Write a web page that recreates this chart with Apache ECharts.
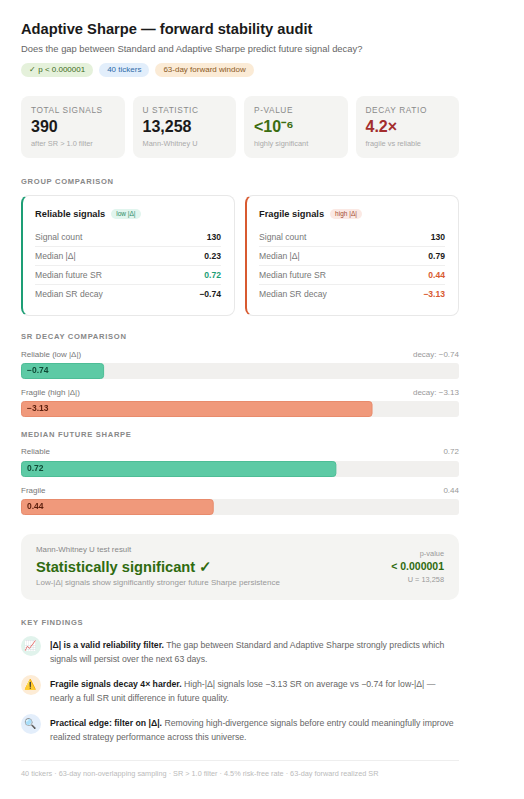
<!DOCTYPE html>
<html>
<head>
<meta charset="utf-8" />
<title>Adaptive Sharpe audit</title>
<script src="https://cdn.jsdelivr.net/npm/echarts@6/dist/echarts.min.js"></script>
<style>
  body { margin: 0; background: #fff; font-family: "Liberation Sans", Arial, sans-serif; color: #1a1a1a; }
  .wrap { width: 438px; padding: 19px 0 0 21px; }
  h1 { margin: 0; font-size: 14.7px; line-height: 20px; font-weight: bold; color: #1a1a1a; }
  .sub { margin-top: 3px; font-size: 9.4px; line-height: 14px; color: #666; }
  .pills { margin-top: 7px; display: flex; gap: 6px; }
  .pill { font-size: 8px; line-height: 14px; padding: 0 8px; border-radius: 7px; }
  .stats { margin-top: 19px; display: flex; gap: 8px; }
  .stat { flex: 1; background: #f4f4f2; border-radius: 8px; padding: 9px 10px; height: 44px; }
  .stat .lab { font-size: 8.3px; line-height: 11px; letter-spacing: .6px; color: #8a8a8a; }
  .stat .val { margin-top: 1px; font-size: 16px; line-height: 20px; font-weight: bold; }
  .stat .note { margin-top: 2px; font-size: 7.4px; line-height: 10px; color: #aaa; }
  .hdr { font-size: 7.6px; line-height: 10px; font-weight: bold; letter-spacing: .7px; color: #888; }
  .groups { margin-top: 8px; display: flex; gap: 10px; }
  .group { flex: 1; border: 1px solid #e8e8e8; border-radius: 8px; padding: 11px 13px 12px 12px; }
  .group .ttl { font-size: 9.3px; line-height: 14px; font-weight: bold; display: flex; align-items: center; gap: 6px; }
  .badge { font-size: 6.5px; line-height: 10px; padding: 0 5px; border-radius: 5px; font-weight: normal; }
  .rows { margin-top: 7px; }
  .row { display: flex; justify-content: space-between; font-size: 8.6px; line-height: 18px; color: #777; border-bottom: 1px solid #efefef; }
  .row:last-child { border-bottom: none; }
  .row b { color: #1a1a1a; }
  .blab { display: flex; justify-content: space-between; font-size: 8px; line-height: 12px; color: #777; }
  .blab span:last-child { color: #999; }
  .bar { width: 438px; height: 16px; margin-top: 2px; }
  .result { margin-top: 19px; background: #f4f4f2; border-radius: 10px; padding: 11px 15px 12px 15px; display: flex; justify-content: space-between; }
  .result .a { font-size: 7.9px; line-height: 10px; color: #888; }
  .result .big { margin-top: 2px; font-size: 14.7px; line-height: 20px; font-weight: bold; color: #2f6b10; }
  .result .c { margin-top: 1px; font-size: 8px; line-height: 10px; color: #999; }
  .result .r { text-align: right; padding-top: 4px; }
  .result .pv { font-size: 7.4px; line-height: 10px; color: #999; }
  .result .pn { font-size: 10.5px; line-height: 14px; font-weight: bold; color: #2f6b10; }
  .result .u { margin-top: 2px; font-size: 7.4px; line-height: 10px; color: #999; }
  .find { display: flex; gap: 9px; margin-top: 9px; }
  .ico { width: 20px; height: 20px; border-radius: 10px; flex: none; font-size: 10px; line-height: 20px; text-align: center; font-family: "Noto Color Emoji", "DejaVu Sans", sans-serif; }
  .find .t { padding-top: 2px; font-size: 8.7px; line-height: 14px; color: #666; width: 405px; }
  .find .t b { color: #1a1a1a; }
  .rule { margin-top: 16px; border-top: 1px solid #eee; }
  .foot { margin-top: 8px; font-size: 7.3px; line-height: 10px; color: #bbb; }
</style>
</head>
<body>
<div class="wrap">
  <h1>Adaptive Sharpe — forward stability audit</h1>
  <div class="sub">Does the gap between Standard and Adaptive Sharpe predict future signal decay?</div>
  <div class="pills">
    <span class="pill" style="background:#e5f1db;color:#3d6b21;">✓ p &lt; 0.000001</span>
    <span class="pill" style="background:#e2eefb;color:#2e6aa8;">40 tickers</span>
    <span class="pill" style="background:#fbebd6;color:#8b5a1e;">63-day forward window</span>
  </div>

  <div class="stats">
    <div class="stat"><div class="lab">TOTAL SIGNALS</div><div class="val">390</div><div class="note">after SR &gt; 1.0 filter</div></div>
    <div class="stat"><div class="lab">U STATISTIC</div><div class="val">13,258</div><div class="note">Mann-Whitney U</div></div>
    <div class="stat"><div class="lab">P-VALUE</div><div class="val" style="color:#3b6d11;">&lt;10⁻⁶</div><div class="note">highly significant</div></div>
    <div class="stat"><div class="lab">DECAY RATIO</div><div class="val" style="color:#a32d2d;">4.2×</div><div class="note">fragile vs reliable</div></div>
  </div>

  <div class="hdr" style="margin-top:19px;">GROUP COMPARISON</div>
  <div class="groups">
    <div class="group" style="border-left:2px solid #1d9e75;">
      <div class="ttl">Reliable signals <span class="badge" style="background:#e1f5ee;color:#2a8a66;">low |Δ|</span></div>
      <div class="rows">
        <div class="row"><span>Signal count</span><b>130</b></div>
        <div class="row"><span>Median |Δ|</span><b>0.23</b></div>
        <div class="row"><span>Median future SR</span><b style="color:#1d9e75;">0.72</b></div>
        <div class="row"><span>Median SR decay</span><b>−0.74</b></div>
      </div>
    </div>
    <div class="group" style="border-left:2px solid #d85a30;">
      <div class="ttl">Fragile signals <span class="badge" style="background:#fbe9e4;color:#a34a30;">high |Δ|</span></div>
      <div class="rows">
        <div class="row"><span>Signal count</span><b>130</b></div>
        <div class="row"><span>Median |Δ|</span><b>0.79</b></div>
        <div class="row"><span>Median future SR</span><b style="color:#d85a30;">0.44</b></div>
        <div class="row"><span>Median SR decay</span><b style="color:#d85a30;">−3.13</b></div>
      </div>
    </div>
  </div>

  <div class="hdr" style="margin-top:16px;">SR DECAY COMPARISON</div>
  <div class="blab" style="margin-top:7px;"><span id="dl0"></span><span id="dr0"></span></div>
  <div class="bar" id="decay0"></div>
  <div class="blab" style="margin-top:8px;"><span id="dl1"></span><span id="dr1"></span></div>
  <div class="bar" id="decay1"></div>

  <div class="hdr" style="margin-top:13px;">MEDIAN FUTURE SHARPE</div>
  <div class="blab" style="margin-top:6px;"><span id="fl0"></span><span id="fr0"></span></div>
  <div class="bar" id="future0" style="margin-top:3px;"></div>
  <div class="blab" style="margin-top:8px;"><span id="fl1"></span><span id="fr1"></span></div>
  <div class="bar" id="future1"></div>

  <div class="result">
    <div>
      <div class="a">Mann-Whitney U test result</div>
      <div class="big">Statistically significant ✓</div>
      <div class="c">Low-|Δ| signals show significantly stronger future Sharpe persistence</div>
    </div>
    <div class="r">
      <div class="pv">p-value</div>
      <div class="pn">&lt; 0.000001</div>
      <div class="u">U = 13,258</div>
    </div>
  </div>

  <div class="hdr" style="margin-top:18px;">KEY FINDINGS</div>
  <div class="find" style="margin-top:8px;">
    <div class="ico" style="background:#e1f3ec;">📈</div>
    <div class="t"><b>|Δ| is a valid reliability filter.</b> The gap between Standard and Adaptive Sharpe strongly predicts which signals will persist over the next 63 days.</div>
  </div>
  <div class="find">
    <div class="ico" style="background:#fdecd6;">⚠️</div>
    <div class="t"><b>Fragile signals decay 4× harder.</b> High-|Δ| signals lose −3.13 SR on average vs −0.74 for low-|Δ| — nearly a full SR unit difference in future quality.</div>
  </div>
  <div class="find">
    <div class="ico" style="background:#e3eefb;">🔍</div>
    <div class="t"><b>Practical edge: filter on |Δ|.</b> Removing high-divergence signals before entry could meaningfully improve realized strategy performance across this universe.</div>
  </div>

  <div class="rule"></div>
  <div class="foot">40 tickers · 63-day non-overlapping sampling · SR &gt; 1.0 filter · 4.5% risk-free rate · 63-day forward realized SR</div>
</div>

<script>
// bar data
var decayLabels = ['Reliable (low |Δ|)', 'Fragile (high |Δ|)'];
var decayValues = [-0.74, -3.13];
var decayMax = 3.9;

var futureLabels = ['Reliable', 'Fragile'];
var futureValues = [0.72, 0.44];
var futureMax = 1.0;

var barColors = ['#5dcaa5', '#f0997b'];
var barBorders = ['#4dbd96', '#e88b6c'];
var barText = ['#0f4a35', '#5a1f0d'];

function fmt(v) {
  return (v < 0 ? '−' : '') + Math.abs(v).toFixed(2);
}

function makeBar(id, name, value, max, i) {
  var chart = echarts.init(document.getElementById(id));
  chart.setOption({
    animation: false,
    grid: { left: 0, right: 0, top: 0, bottom: 0 },
    xAxis: { type: 'value', min: 0, max: max, show: false },
    yAxis: { type: 'category', data: [name], show: false },
    series: [{
      type: 'bar',
      data: [Math.abs(value)],
      barWidth: 16,
      showBackground: true,
      backgroundStyle: { color: '#f1f0ee', borderRadius: 3 },
      itemStyle: { color: barColors[i], borderColor: barBorders[i], borderWidth: 1, borderRadius: 3 },
      label: {
        show: true,
        position: 'insideLeft',
        distance: 6,
        formatter: function () { return fmt(value); },
        fontFamily: 'Liberation Sans, Arial, sans-serif',
        fontSize: 8.5,
        fontWeight: 'bold',
        color: barText[i]
      }
    }]
  });
}

for (var i = 0; i < decayValues.length; i++) {
  document.getElementById('dl' + i).textContent = decayLabels[i];
  document.getElementById('dr' + i).textContent = 'decay: ' + fmt(decayValues[i]);
  makeBar('decay' + i, decayLabels[i], decayValues[i], decayMax, i);
}
for (var j = 0; j < futureValues.length; j++) {
  document.getElementById('fl' + j).textContent = futureLabels[j];
  document.getElementById('fr' + j).textContent = fmt(futureValues[j]);
  makeBar('future' + j, futureLabels[j], futureValues[j], futureMax, j);
}
</script>
</body>
</html>
